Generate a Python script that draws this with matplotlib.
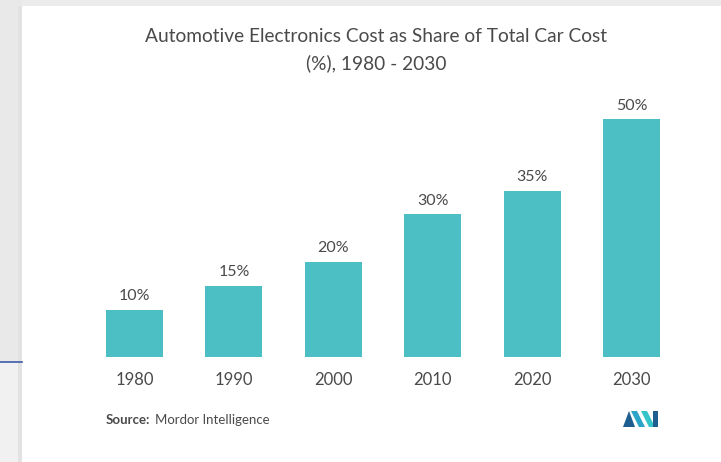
import matplotlib.pyplot as plt
from matplotlib.patches import Rectangle, Polygon
import numpy as np

# chart data
years = ['1980', '1990', '2000', '2010', '2020', '2030']
share = [10, 15, 20, 30, 35, 50]

bar_color = '#4cbfc4'
text_color = '#4a4a4a'

plt.rcParams['font.family'] = ['Lato', 'DejaVu Sans']

W, H = 721, 462
fig = plt.figure(figsize=(W / 100, H / 100), dpi=100, facecolor='white')

# page background around the card (screenshot frame)
bg = fig.add_axes([0, 0, 1, 1], zorder=-5)
bg.set_xlim(0, W)
bg.set_ylim(H, 0)
bg.axis('off')
bg.add_patch(Rectangle((0, 0), W, 6, color='#ececec', lw=0))
bg.add_patch(Rectangle((0, 0), 22, 362, color='#e9e9e9', lw=0))
bg.add_patch(Rectangle((0, 362), 22, H - 362, color='#f1f1f1', lw=0))
bg.add_patch(Rectangle((18, 6), 4, H, color='#e2e2e2', lw=0))
bg.plot([0, 22], [362, 362], color='#3c5aa8', lw=1.2)

# bars
ax = fig.add_axes([84.8 / W, 105 / H, 596.4 / W, 266 / H])
x = np.arange(len(years))
bars = ax.bar(x, share, width=0.575, color=bar_color)
ax.set_xlim(-0.5, len(years) - 0.5)
ax.set_ylim(0, 56)
for b, v in zip(bars, share):
    ax.annotate(f'{v}%', (b.get_x() + b.get_width() / 2, v), xytext=(0, 5),
                textcoords='offset points', ha='center', va='bottom',
                fontsize=11.5, color=text_color)
ax.set_xticks(x)
ax.set_xticklabels(years, fontsize=12, color=text_color)
ax.tick_params(axis='x', length=0, pad=11)
ax.set_yticks([])
for s in ax.spines.values():
    s.set_visible(False)

# title
fig.text(376 / W, 1 - 37 / H, 'Automotive Electronics Cost as Share of Total Car Cost',
         ha='center', va='center', fontsize=13.8, color=text_color)
fig.text(376 / W, 1 - 63 / H, '(%), 1980 - 2030',
         ha='center', va='center', fontsize=13.8, color=text_color)

# source line
fig.text(106 / W, 1 - 420 / H, 'Source:', ha='left', va='center',
         fontsize=9.5, fontweight='bold', color=text_color)
fig.text(155 / W, 1 - 420 / H, 'Mordor Intelligence', ha='left', va='center',
         fontsize=9.5, color=text_color)

# small logo
bg.add_patch(Polygon([[623, 427], [629, 411], [635, 427]], color='#1f5f8f', lw=0))
bg.add_patch(Polygon([[631, 411], [637, 411], [645, 427], [639, 427]], color='#2aa5c8', lw=0))
bg.add_patch(Polygon([[641, 411], [647, 411], [655, 427], [649, 427]], color='#35c4c8', lw=0))
bg.add_patch(Rectangle((653, 411), 5, 16, color='#1f5f8f', lw=0))

fig.savefig('out.png', dpi=100)
